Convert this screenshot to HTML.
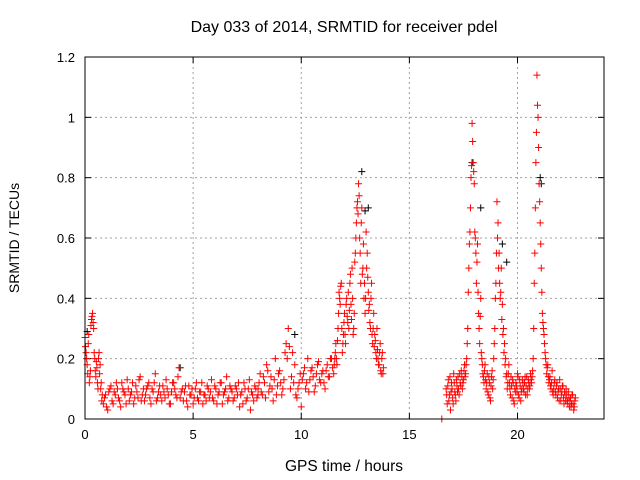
<!DOCTYPE html>
<html><head><meta charset="utf-8"><style>
body{margin:0;background:#fff;}
svg{display:block;font-family:"Liberation Sans",sans-serif;}
</style></head><body>
<svg id="chart" width="640" height="480">
<text x="344" y="32" font-size="16" text-anchor="middle">Day 033 of 2014, SRMTID for receiver pdel</text>
<text x="344" y="471" font-size="15.5" text-anchor="middle">GPS time / hours</text>
<text transform="translate(19,238) rotate(-90)" font-size="14" text-anchor="middle">SRMTID / TECUs</text>
<g id="grid"></g><g id="marks"></g>
<rect x="85" y="57" width="519" height="362" fill="none" stroke="#000" stroke-width="1"/>
</svg>
<script>
const xTicks=[0,5,10,15,20];
const yTicks=[0,0.2,0.4,0.6,0.8,1,1.2];
const yTickLabels=["0","0.2","0.4","0.6","0.8","1","1.2"];
const segStarts=[0.0,0.85,8.0,11.5,16.5,16.7,0.025,0.9,8.05,11.525,16.725];
const segSteps=[0.05,0.1,0.1,0.05,0.1,0.05,0.05,0.1,0.1,0.05,0.05];
const segA=[.27,.22,.18,.25,.12,.16,.33,.35,.30,.20,.14,.17,.10,.22,.18,.12,.08];
const segB=[.05,.08,.03,.10,.06,.09,.12,.07,.04,.10,.08,.13,.06,.09,.05,.11,.07,.14,.08,.06,.10,.12,.05,.09,.15,.07,.11,.06,.09,.13,.08,.05,.12,.10,.07,.17,.09,.06,.11,.04,.08,.10,.07,.12,.06,.09,.05,.08,.11,.07,.13,.06,.10,.08,.12,.05,.09,.14,.07,.10,.06,.11,.08,.04,.09,.12,.06,.10,.03,.08,.11,.07];
const segC=[.10,.15,.08,.12,.18,.09,.14,.06,.20,.11,.16,.08,.13,.25,.30,.10,.22,.18,.07,.12,.04,.15,.10,.20,.13,.17,.09,.15,.19,.12,.16,.10,.18,.14,.20];
const segD=[.15,.20,.25,.18,.30,.42,.38,.45,.22,.28,.35,.25,.40,.32,.30,.45,.38,.50,.28,.35,.55,.65,.72,.78,.60,.45,.70,.50,.40,.35,.62,.55,.42,.38,.30,.45,.25,.35,.28,.22,.30,.20,.18,.25,.15,.22,.17];
const segE=[0.0];
const segF=[.10,.05,.13,.08,.03,.12,.07,.15,.09,.06,.11,.14,.08,.12,.16,.10,.13,.18,
.15,.20,.30,.50,.62,.80,.98,.85,.78,.60,.45,.58,.35,.25,.40,.20,.15,.12,
.18,.10,.15,.08,.12,.06,.14,.10,.20,.30,
.45,.72,.65,.55,.40,.50,.38,.30,.25,.20,.15,.12,
.18,.10,.14,.07,.12,.05,.09,.11,.15,.08,.13,.06,.10,.12,.09,.14,.11,.08,.13,.10,.15,.12,
.16,.30,.55,.85,1.14,1.0,.78,.65,.50,.35,.30,.25,
.20,.15,.18,.12,.14,.10,.16,.08,.12,.09,.11,.07,.10,.13,.06,.09,.11,.05,.08,.10,.06,.09,.04,.07,.05,.08,.03,.06];
const segA2=[.24,.20,.15,.28,.14,.31,.34,.32,.22,.16,.19,.12,.20,.15,.10,.06];
const segB2=[.07,.04,.09,.11,.05,.08,.10,.06,.12,.09,.05,.10,.08,.12,.07,.09,.13,.06,.10,.08,.11,.07,.10,.12,.06,.09,.08,.11,.07,.10,.05,.09,.12,.08,.14,.07,.10,.09,.06,.11,.08,.05,.10,.07,.09,.12,.08,.06,.10,.09,.07,.11,.05,.09,.12,.08,.10,.06,.11,.09,.07,.10,.12,.08,.05,.10,.07,.13,.09,.06,.10,.08];
const segC2=[.12,.09,.14,.07,.16,.11,.10,.13,.08,.15,.12,.10,.22,.20,.24,.14,.12,.08,.10,.15,.13,.17,.12,.09,.16,.14,.11,.18,.13,.15,.12,.16,.14,.20,.17];
const segD2=[.18,.22,.20,.26,.35,.40,.44,.30,.25,.32,.28,.38,.34,.42,.36,.48,.33,.40,.30,.52,.60,.70,.68,.74,.55,.65,.48,.58,.45,.40,.50,.47,.36,.32,.40,.28,.30,.24,.26,.20,.23,.18,.22,.16,.20,.15];
const segF2=[.08,.11,.06,.14,.09,.10,.05,.12,.08,.13,.09,.10,.15,.11,.14,.12,.16,.14,
.18,.25,.42,.58,.70,.84,.92,.82,.62,.55,.52,.42,.30,.34,.22,.18,.14,.16,
.13,.12,.09,.14,.07,.11,.16,.13,.25,.40,
.55,.60,.50,.45,.42,.33,.28,.22,.18,.14,.10,.15,
.12,.08,.11,.13,.06,.10,.12,.09,.14,.07,.11,.09,.13,.10,.12,.08,.14,.10,.12,.11,.13,.14,
.20,.45,.70,.95,1.04,.90,.72,.58,.42,.32,.28,.22,
.18,.17,.14,.13,.11,.12,.09,.10,.13,.08,.12,.09,.06,.10,.08,.11,.07,.09,.06,.08,.05,.07,.06,.04,.08,.05,.04,.07];
const blackT=[0.1,4.4,9.7,12.8,12.95,13.1,17.9,18.3,19.3,19.5,21.05,21.1,22.3,22.5];
const blackV=[.29,.17,.28,.82,.69,.70,.85,.70,.58,.52,.80,.78,.06,.05];
const segs=[segA,segB,segC,segD,segE,segF,segA2,segB2,segC2,segD2,segF2];
const X0=85,X1=604,Y0=419,Y1=57;
function sx(t){return X0+(t/24)*(X1-X0);}
function sy(v){return Y0-(v/1.2)*(Y0-Y1);}
const NS="http://www.w3.org/2000/svg";
const grid=document.getElementById('grid'),marks=document.getElementById('marks');
function mk(tag,a,parent){const e=document.createElementNS(NS,tag);for(const k in a)e.setAttribute(k,a[k]);parent.appendChild(e);return e;}
xTicks.forEach((t,i)=>{const x=sx(t);
 if(i>0){const g=mk('line',{x1:x,x2:x,y1:Y1,y2:Y0,stroke:'#a0a0a0','stroke-dasharray':'2,3'},grid);
 
 }
 const tk=mk('text',{x:x,y:Y0+20,'font-size':13,'text-anchor':'middle'},grid);tk.textContent=String(t);
 
 
 mk('line',{x1:x,x2:x,y1:Y0,y2:Y0-6,stroke:'#000'},grid);mk('line',{x1:x,x2:x,y1:Y1,y2:Y1+6,stroke:'#000'},grid);
});
yTicks.forEach((v,i)=>{const y=sy(v);
 if(i>0&&i<yTicks.length-1){const g=mk('line',{x1:X0,x2:X1,y1:y,y2:y,stroke:'#a0a0a0','stroke-dasharray':'2,3'},grid);
 
 }
 const tk=mk('text',{x:X0-10,y:y+5,'font-size':13,'text-anchor':'end'},grid);tk.textContent=yTickLabels[i];
 
 
 mk('line',{x1:X0,x2:X0+6,y1:y,y2:y,stroke:'#000'},grid);mk('line',{x1:X1,x2:X1-6,y1:y,y2:y,stroke:'#000'},grid);
});
function plus(t,v,col,name){const x=sx(t),y=sy(v);
 const p=mk('path',{d:`M${x-3.5},${y}H${x+3.5}M${x},${y-3.5}V${y+3.5}`,stroke:col,'stroke-width':1,fill:'none'},marks);
 
 }
blackT.forEach((t,i)=>plus(t,blackV[i],'#000','black-point'));
segs.forEach((s,k)=>s.forEach((v,i)=>plus(segStarts[k]+i*segSteps[k],v,'#ff0000','red-point')));
</script>
</body></html>
